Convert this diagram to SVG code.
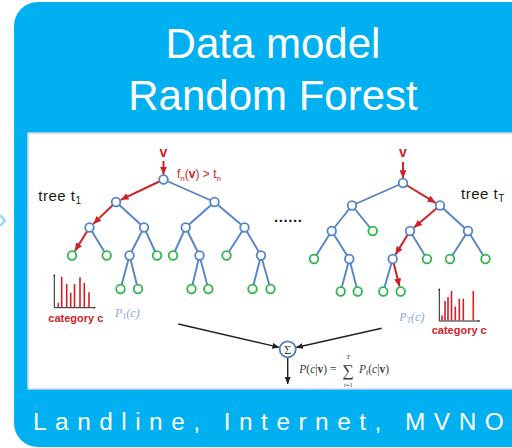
<svg xmlns="http://www.w3.org/2000/svg" width="512" height="448" viewBox="0 0 512 448">
  <style>
    .title { font-family: "Liberation Sans", Arial, sans-serif; fill: #ffffff; font-size: 42px; text-anchor: middle; }
    .footer { font-family: "Liberation Sans", Arial, sans-serif; fill: #ffffff; font-size: 24.4px; letter-spacing: 8.5px; }
    .edge { stroke: #5585c8; stroke-width: 1.9; fill: none; }
    .hot { stroke: #cc2229; stroke-width: 2; fill: none; marker-end: url(#redHead); }
    .inner { fill: #ffffff; stroke: #5585c8; stroke-width: 1.8; }
    .leaf { fill: #ffffff; stroke: #2eb84b; stroke-width: 1.8; }
    .sumline { stroke: #222222; stroke-width: 1.4; fill: none; marker-end: url(#blackHead); }
    .lbl { font-family: "Liberation Sans", Arial, sans-serif; fill: #1a1a1a; font-size: 15px; letter-spacing: 0.5px; }
    .red { font-family: "Liberation Sans", Arial, sans-serif; fill: #cc2229; }
    .cat { font-family: "Liberation Sans", Arial, sans-serif; fill: #d42027; font-size: 11px; font-weight: bold; }
    .prob { font-family: "Liberation Serif", "DejaVu Serif", serif; fill: #8aa8d8; font-size: 12px; font-style: italic; }
    .math { font-family: "Liberation Serif", "DejaVu Serif", serif; fill: #3a3a3a; }
    .axis { stroke: #222222; stroke-width: 1; fill: none; }
    .bar { stroke: #d42027; stroke-width: 1.6; }
  </style>
  <defs>
    <marker id="redHead" markerUnits="userSpaceOnUse" markerWidth="9" markerHeight="7" refX="8" refY="3.5" orient="auto">
      <path d="M0,0 L8,3.5 L0,7 z" fill="#cc2229"/>
    </marker>
    <marker id="blackHead" markerUnits="userSpaceOnUse" markerWidth="8" markerHeight="6" refX="7" refY="3" orient="auto">
      <path d="M0,0 L7,3 L0,6 z" fill="#222222"/>
    </marker>
  </defs>

  <!-- card background -->
  <rect x="0" y="0" width="512" height="448" fill="#ffffff"/>
  <polyline points="0,215 5,220.5 0,226" fill="none" stroke="#9cd8f2" stroke-width="2.5"/>
  <rect x="14" y="2" width="530" height="445" rx="24" ry="24" fill="#00b0f0"/>
  <text class="title" x="273" y="58">Data model</text>
  <text class="title" x="273" y="110">Random Forest</text>

  <!-- figure panel -->
  <rect x="28" y="133" width="500" height="256" fill="#ffffff" stroke="#c5dceb" stroke-width="1.5"/>

  <!-- connectors -->
  <g id="connectors">
    <!-- tree t1 edges -->
    <path class="edge" d="M163.5,179.5 L214.5,202 M116,202 L144,227.5 M214.5,202 L185.7,227.5 M214.5,202 L244.5,227.5
      M89.5,227.5 L106.7,255.5 M144,227.5 L129.5,255.5 M144,227.5 L157,255.5
      M185.7,227.5 L173,255.5 M185.7,227.5 L199.5,255.5 M244.5,227.5 L226.5,255.5 M244.5,227.5 L261,255.5
      M129.5,255.5 L120.5,289 M129.5,255.5 L138,289 M199.5,255.5 L191.5,289 M199.5,255.5 L208.3,289
      M261,255.5 L252.5,289 M261,255.5 L270.5,289"/>
    <!-- tree tT edges -->
    <path class="edge" d="M403,183 L352,205.5 M352,205.5 L331.7,231 M352,205.5 L372.7,231 M440,205.5 L468,231
      M331.7,231 L314,259 M331.7,231 L349.3,259 M410,231 L427,259 M468,231 L450,259 M468,231 L485.5,259
      M349.3,259 L340.7,291.5 M349.3,259 L357.7,291.5 M392.7,259 L383.3,291.5"/>
    <!-- decision paths -->
    <line class="hot" x1="163.5" y1="161" x2="163.5" y2="174.8"/>
    <line class="hot" x1="163.5" y1="179.5" x2="120.7" y2="199.8"/>
    <line class="hot" x1="116" y1="202" x2="93.3" y2="223.9"/>
    <line class="hot" x1="89.5" y1="227.5" x2="74.8" y2="251.1"/>
    <line class="hot" x1="403" y1="162" x2="403" y2="178.3"/>
    <line class="hot" x1="403" y1="183" x2="435.6" y2="202.8"/>
    <line class="hot" x1="440" y1="205.5" x2="414" y2="227.6"/>
    <line class="hot" x1="410" y1="231" x2="395.4" y2="254.6"/>
    <line class="hot" x1="392.7" y1="259" x2="399.5" y2="286.5"/>
    <!-- aggregation -->
    <line class="sumline" x1="178.3" y1="324" x2="279.4" y2="347.4"/>
    <line class="sumline" x1="381.7" y1="328.3" x2="296" y2="347.5"/>
    <line class="sumline" x1="287.7" y1="357.5" x2="287.7" y2="384"/>
  </g>

  <!-- tree t1 nodes -->
  <g id="tree1">
    <g id="t1-r"><circle class="inner" cx="163.5" cy="179.5" r="4.3"/></g>
    <g id="t1-a"><circle class="inner" cx="116" cy="202" r="4.3"/></g>
    <g id="t1-b"><circle class="inner" cx="214.5" cy="202" r="4.3"/></g>
    <g id="t1-aa"><circle class="inner" cx="89.5" cy="227.5" r="4.3"/></g>
    <g id="t1-ab"><circle class="inner" cx="144" cy="227.5" r="4.3"/></g>
    <g id="t1-ba"><circle class="inner" cx="185.7" cy="227.5" r="4.3"/></g>
    <g id="t1-bb"><circle class="inner" cx="244.5" cy="227.5" r="4.3"/></g>
    <g id="t1-aaa"><circle class="leaf" cx="72" cy="255.5" r="4.3"/></g>
    <g id="t1-aab"><circle class="leaf" cx="106.7" cy="255.5" r="4.3"/></g>
    <g id="t1-aba"><circle class="inner" cx="129.5" cy="255.5" r="4.3"/></g>
    <g id="t1-abb"><circle class="leaf" cx="157" cy="255.5" r="4.3"/></g>
    <g id="t1-baa"><circle class="leaf" cx="173" cy="255.5" r="4.3"/></g>
    <g id="t1-bab"><circle class="inner" cx="199.5" cy="255.5" r="4.3"/></g>
    <g id="t1-bba"><circle class="leaf" cx="226.5" cy="255.5" r="4.3"/></g>
    <g id="t1-bbb"><circle class="inner" cx="261" cy="255.5" r="4.3"/></g>
    <g id="t1-abaa"><circle class="leaf" cx="120.5" cy="289" r="4.3"/></g>
    <g id="t1-abab"><circle class="leaf" cx="138" cy="289" r="4.3"/></g>
    <g id="t1-baba"><circle class="leaf" cx="191.5" cy="289" r="4.3"/></g>
    <g id="t1-babb"><circle class="leaf" cx="208.3" cy="289" r="4.3"/></g>
    <g id="t1-bbba"><circle class="leaf" cx="252.5" cy="289" r="4.3"/></g>
    <g id="t1-bbbb"><circle class="leaf" cx="270.5" cy="289" r="4.3"/></g>
  </g>

  <!-- tree tT nodes -->
  <g id="treeT">
    <g id="tT-r"><circle class="inner" cx="403" cy="183" r="4.3"/></g>
    <g id="tT-a"><circle class="inner" cx="352" cy="205.5" r="4.3"/></g>
    <g id="tT-b"><circle class="inner" cx="440" cy="205.5" r="4.3"/></g>
    <g id="tT-aa"><circle class="inner" cx="331.7" cy="231" r="4.3"/></g>
    <g id="tT-ab"><circle class="leaf" cx="372.7" cy="231" r="4.3"/></g>
    <g id="tT-ba"><circle class="inner" cx="410" cy="231" r="4.3"/></g>
    <g id="tT-bb"><circle class="inner" cx="468" cy="231" r="4.3"/></g>
    <g id="tT-aaa"><circle class="leaf" cx="314" cy="259" r="4.3"/></g>
    <g id="tT-aab"><circle class="inner" cx="349.3" cy="259" r="4.3"/></g>
    <g id="tT-baa"><circle class="inner" cx="392.7" cy="259" r="4.3"/></g>
    <g id="tT-bab"><circle class="leaf" cx="427" cy="259" r="4.3"/></g>
    <g id="tT-bba"><circle class="leaf" cx="450" cy="259" r="4.3"/></g>
    <g id="tT-bbb"><circle class="leaf" cx="485.5" cy="259" r="4.3"/></g>
    <g id="tT-aaba"><circle class="leaf" cx="340.7" cy="291.5" r="4.3"/></g>
    <g id="tT-aabb"><circle class="leaf" cx="357.7" cy="291.5" r="4.3"/></g>
    <g id="tT-baaa"><circle class="leaf" cx="383.3" cy="291.5" r="4.3"/></g>
    <g id="tT-baab"><circle class="leaf" cx="400.7" cy="291.5" r="4.3"/></g>
  </g>

  <!-- sum node -->
  <g id="sum">
    <circle cx="287.7" cy="349.3" r="8" fill="#ffffff" stroke="#4a7fc0" stroke-width="1.8"/>
    <text class="math" x="287.7" y="353.6" font-size="12" text-anchor="middle">Σ</text>
  </g>

  <!-- labels -->
  <g id="labels">
    <text class="red" x="163.5" y="157" font-size="14" font-weight="bold" text-anchor="middle">v</text>
    <text class="red" x="403" y="157" font-size="14" font-weight="bold" text-anchor="middle">v</text>
    <text class="red" x="177" y="178" font-size="12">f<tspan font-size="8" dy="2.5">n</tspan><tspan dy="-2.5">(</tspan><tspan font-weight="bold">v</tspan>) &gt; t<tspan font-size="8" dy="2.5">n</tspan></text>
    <text class="lbl" x="38.3" y="201">tree t<tspan font-size="10" dy="3">1</tspan></text>
    <text class="lbl" x="461" y="199">tree t<tspan font-size="10" dy="3">T</tspan></text>
    <text x="274" y="222" font-family="Liberation Sans, Arial, sans-serif" font-size="15" font-weight="bold" fill="#1a1a1a" letter-spacing="0.6">......</text>
    <text class="cat" x="48.3" y="321.7">category c</text>
    <text class="cat" x="431.7" y="334">category c</text>
    <text class="prob" x="115" y="316.7">P<tspan font-size="8" dy="2" font-style="normal">1</tspan><tspan dy="-2">(c)</tspan></text>
    <text class="prob" x="399.3" y="321">P<tspan font-size="8" dy="2">T</tspan><tspan dy="-2">(c)</tspan></text>
    <text class="math" x="299.3" y="373" font-size="11.5"><tspan font-style="italic">P</tspan>(<tspan font-style="italic">c</tspan>|<tspan font-weight="bold">v</tspan>) =</text>
    <text class="math" x="348.3" y="376" font-size="16" text-anchor="middle">∑</text>
    <text class="math" x="348.3" y="359" font-size="7" font-style="italic" text-anchor="middle">T</text>
    <text class="math" x="348.3" y="386.5" font-size="6.5" text-anchor="middle"><tspan font-style="italic">t</tspan>=1</text>
    <text class="math" x="359" y="373" font-size="11.5"><tspan font-style="italic">P</tspan><tspan font-size="8" font-style="italic" dy="2">t</tspan><tspan dy="-2">(</tspan><tspan font-style="italic">c</tspan>|<tspan font-weight="bold">v</tspan>)</text>
  </g>

  <!-- class histograms -->
  <g id="hist1">
    <path class="axis" d="M54.3,276 V307.7 H94"/>
    <circle cx="54.3" cy="275.5" r="0.9" fill="#222222"/>
    <circle cx="94.5" cy="307.7" r="0.9" fill="#222222"/>
    <path class="bar" d="M58.3,307 V302.7 M61.7,307 V276.7 M66.7,307 V284 M70.7,307 V292.7 M74.5,307 V284 M80,307 V277.3 M84.3,307 V282.7 M89,307 V292.3"/>
  </g>
  <g id="histT">
    <path class="axis" d="M439.3,290 V321 H478.3"/>
    <circle cx="439.3" cy="289.5" r="0.9" fill="#222222"/>
    <circle cx="478.8" cy="321" r="0.9" fill="#222222"/>
    <path class="bar" d="M442,320.5 V315.5 M445,320.5 V301 M448,320.5 V297 M451.5,320.5 V291 M455.3,320.5 V306.5 M459.3,320.5 V298.7 M463.3,320.5 V298.7 M473.3,320.5 V291"/>
  </g>

  <text class="footer" x="33" y="430">Landline, Internet, MVNO</text>
</svg>
